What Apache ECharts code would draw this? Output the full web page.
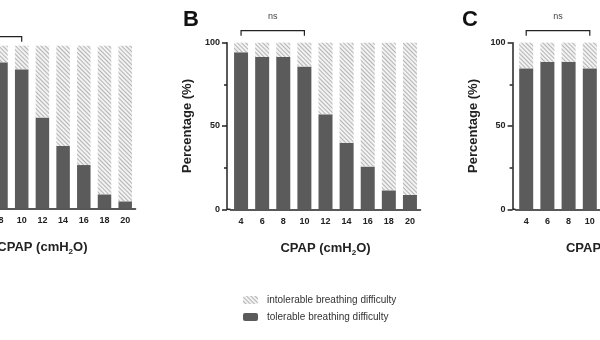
<!DOCTYPE html>
<html><head><meta charset="utf-8">
<script src="https://cdn.jsdelivr.net/npm/echarts@6/dist/echarts.min.js"></script>
<style>html,body{margin:0;padding:0;background:#fff}#c{width:600px;height:340px}</style>
</head><body><div id="c"></div>
<script>
// ---- data ----
const categories = ['4', '6', '8', '10', '12', '14', '16', '18', '20'];
// Panel A: categories 4 and 6 lie outside the visible crop
const tolerableA = [null, null, 89.8, 85.5, 55.9, 38.3, 26.6, 8.6, 4.3];
const tolerableB = [94.3, 91.4, 91.4, 85.7, 57.1, 40.0, 25.7, 11.4, 8.6];
// Panel C: categories 12..20 lie outside the visible crop
const tolerableC = [84.6, 88.5, 88.5, 84.6, null, null, null, null, null];
const panelLetters = ['A', 'B', 'C'];
const seriesNames = ['intolerable breathing difficulty', 'tolerable breathing difficulty'];
const bracketFrom = '4', bracketTo = '10', bracketText = 'ns';

// ---- layout ----
const panels = [
  { tol: tolerableA, left: -50.75, width: 186.3, top: 45.7, height: 162.6, bw: 13.5, yOff: 3.5, bGap: 9, letterX: -100 },
  { tol: tolerableB, left: 230.5, width: 190, top: 42.7, height: 166.6, bw: 14, yOff: 3.5, bGap: 12, letterX: 183 },
  { tol: tolerableC, left: 515.6, width: 190.8, top: 42.7, height: 166.6, bw: 14, yOff: 3, bGap: 12, letterX: 462 }
];
const AX = '#222';
const FONT = 'Liberation Sans, Arial, sans-serif';
const hatch = {
  color: '#b4b4b4', symbol: 'rect', symbolSize: 1,
  dashArrayX: [1, 0], dashArrayY: [1, 2], rotation: Math.PI / 4
};

const chart = echarts.init(document.getElementById('c'), null, { renderer: 'canvas' });
const grid = [], xAxis = [], yAxis = [], series = [];
panels.forEach((p, i) => {
  grid.push({ left: p.left, top: p.top, width: p.width, height: p.height,
    containLabel: false, outerBoundsMode: 'none' });
  xAxis.push({
    type: 'category', gridIndex: i, data: categories,
    name: '{b|CPAP (cmH}{s|2}{b|O)}', nameLocation: 'middle', nameGap: 32,
    nameTextStyle: { rich: {
      b: { fontSize: 13, fontWeight: 'bold', color: AX, fontFamily: FONT },
      s: { fontSize: 8, fontWeight: 'bold', color: AX, fontFamily: FONT, padding: [7, 0, 0, 0] }
    } },
    axisLine: { lineStyle: { color: AX, width: 1.5 } },
    axisTick: { alignWithLabel: true, length: 4, lineStyle: { color: AX, width: 1.5 } },
    axisLabel: { interval: 0, fontSize: 9, fontWeight: 'bold', color: AX, margin: 8, fontFamily: FONT },
    splitLine: { show: false }
  });
  yAxis.push({
    type: 'value', gridIndex: i, min: 0, max: 100, interval: 50, offset: p.yOff,
    name: 'Percentage (%)', nameLocation: 'middle', nameGap: 33,
    nameTextStyle: { fontSize: 13, fontWeight: 'bold', color: AX, fontFamily: FONT },
    axisLine: { show: true, lineStyle: { color: AX, width: 1.5 } },
    axisTick: { show: true, length: 5, lineStyle: { color: AX, width: 1.5 } },
    minorTick: { show: true, splitNumber: 2, length: 3, lineStyle: { color: AX, width: 1.5 } },
    axisLabel: { fontSize: 9, fontWeight: 'bold', color: AX, margin: 7, fontFamily: FONT },
    splitLine: { show: false }
  });
  series.push({
    name: seriesNames[1], type: 'bar', stack: 's' + i, xAxisIndex: i, yAxisIndex: i,
    data: p.tol, barWidth: p.bw, itemStyle: { color: '#5b5b5b' }
  });
  series.push({
    name: seriesNames[0], type: 'bar', stack: 's' + i, xAxisIndex: i, yAxisIndex: i,
    data: p.tol.map(v => v == null ? null : +(100 - v).toFixed(1)), barWidth: p.bw,
    itemStyle: { color: '#f2f2f2', decal: hatch }
  });
});

chart.setOption({
  animation: false,
  grid, xAxis, yAxis, series,
  legend: {
    data: seriesNames, orient: 'vertical', left: 238, top: 290,
    itemWidth: 15, itemHeight: 8, itemGap: 7,
    textStyle: { fontSize: 10, color: '#333', fontFamily: FONT, padding: [0, 0, 0, 4] },
    selectedMode: false
  }
});

// brackets, panel letters, axis-corner joins
const g = [];
panels.forEach((p, i) => {
  const x0 = chart.convertToPixel({ xAxisIndex: i }, bracketFrom);
  const x1 = chart.convertToPixel({ xAxisIndex: i }, bracketTo);
  const yTop = chart.convertToPixel({ yAxisIndex: i }, 100);
  const yZero = chart.convertToPixel({ yAxisIndex: i }, 0);
  const by = yTop - p.bGap, tk = 5;
  g.push({ type: 'polyline', shape: { points: [[x0, by + tk], [x0, by], [x1, by], [x1, by + tk]] },
    style: { stroke: AX, lineWidth: 1.2, fill: null } });
  g.push({ type: 'text', x: (x0 + x1) / 2, y: by - 14.5,
    style: { text: bracketText, fontSize: 9, fill: '#444', fontFamily: FONT, align: 'center', verticalAlign: 'middle' } });
  g.push({ type: 'line', shape: { x1: p.left - p.yOff, y1: yZero, x2: p.left, y2: yZero },
    style: { stroke: AX, lineWidth: 1.5 } });
  g.push({ type: 'text', x: p.letterX, y: 20,
    style: { text: panelLetters[i], fontSize: 22, fontWeight: 'bold', fill: '#111', fontFamily: FONT, align: 'left', verticalAlign: 'middle' } });
});
chart.setOption({ graphic: g });
</script>
</body></html>
